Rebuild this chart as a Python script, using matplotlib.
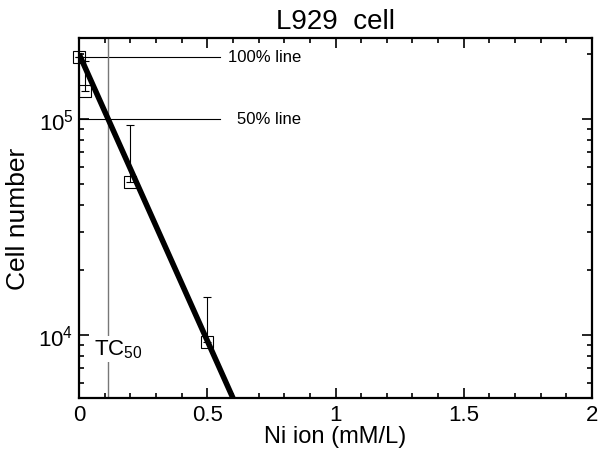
import matplotlib
matplotlib.use("Agg")
import matplotlib.pyplot as plt
from matplotlib.ticker import LogLocator, MultipleLocator, NullFormatter, FixedLocator

plt.rcParams['font.family'] = ['Liberation Sans', 'DejaVu Sans']
plt.rcParams['mathtext.fontset'] = 'custom'
plt.rcParams['mathtext.rm'] = 'Liberation Sans'
plt.rcParams['mathtext.it'] = 'Liberation Sans'

# 資料
conc = [0.0, 0.025, 0.2, 0.5]                 # Ni ion (mM/L)
cells = [1.94e5, 1.35e5, 5.1e4, 9.3e3]         # cell number
err_up = [0.0, 0.51e5, 4.3e4, 5.7e3]           # upper error
fit_x = [0.0, 0.6]
fit_y = [2.0e5, 5.1e3]
line100 = 1.94e5
line50 = 1.0e5
tc50 = 0.113

fig = plt.figure(figsize=(6.0, 4.52), dpi=100)
ax = fig.add_axes([0.1317, 0.1173, 0.855, 0.7964])

# 參考線
ax.plot([0, 0.55], [line100, line100], color='black', lw=0.8)
ax.plot([0, 0.55], [line50, line50], color='black', lw=0.8)
ax.axvline(tc50, color='#777777', lw=1.0)
ax.text(0.58, line100, '100% line', fontsize=12, va='center', ha='left')
ax.text(0.615, line50, '50% line', fontsize=12, va='center', ha='left')
ax.text(0.06, 8.6e3, 'TC$_{50}$', fontsize=16, va='center', ha='left',
        bbox=dict(facecolor='white', edgecolor='none', pad=1))

# 擬合直線
ax.plot(fit_x, fit_y, color='black', lw=4.0, solid_capstyle='butt', zorder=4)

# 數據點與誤差
ax.errorbar(conc, cells, yerr=[[0] * len(err_up), err_up], fmt='s', ms=9,
            mfc='none', mec='black', mew=0.8, ecolor='black', elinewidth=0.8,
            capsize=3, capthick=0.8, zorder=3, clip_on=False)

ax.set_yscale('log')
ax.set_xlim(0, 2)
ax.set_ylim(5.1e3, 2.37e5)

ax.xaxis.set_major_locator(FixedLocator([0, 0.5, 1, 1.5, 2]))
ax.set_xticklabels(['0', '0.5', '1', '1.5', '2'])
ax.xaxis.set_minor_locator(MultipleLocator(0.1))
ax.yaxis.set_major_locator(LogLocator(base=10))
ax.yaxis.set_minor_locator(LogLocator(base=10, subs=range(2, 10)))
ax.yaxis.set_minor_formatter(NullFormatter())
ax.set_yticks([1e4, 1e5])
ax.set_yticklabels(['10$^{4}$', '10$^{5}$'])

ax.tick_params(which='both', direction='in', top=True, right=True, labelsize=16, width=1.2)
ax.tick_params(which='major', length=7, pad=4)
ax.tick_params(which='minor', length=3.5)
for s in ax.spines.values():
    s.set_linewidth(1.6)

ax.set_xlabel('Ni ion (mM/L)', fontsize=17, labelpad=0)
ax.set_ylabel('Cell number', fontsize=19, labelpad=6)
ax.set_title('L929  cell', fontsize=20, pad=7)

fig.savefig('out.png', dpi=100)
